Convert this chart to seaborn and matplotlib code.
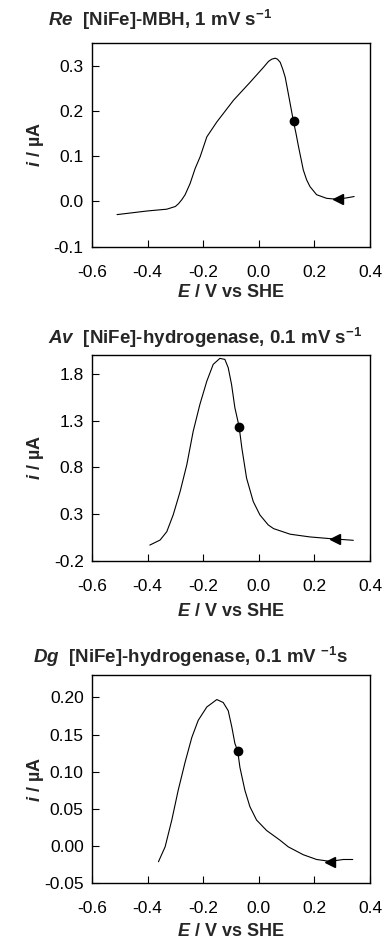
import numpy as np
import pandas as pd
import matplotlib
matplotlib.use("Agg")
import matplotlib.pyplot as plt
import seaborn as sns

# Re [NiFe]-MBH, 1 mV/s
re_E = [-0.510, -0.402, -0.331, -0.300, -0.289, -0.277, -0.265, -0.247, -0.229, -0.211,
        -0.187, -0.151, -0.091, -0.031, 0.017, 0.035, 0.047, 0.059, 0.067, 0.077,
        0.086, 0.095, 0.103, 0.113, 0.125, 0.134, 0.143, 0.160, 0.172, 0.184,
        0.208, 0.226, 0.244, 0.280, 0.316, 0.343]
re_i = [-0.029, -0.021, -0.017, -0.011, -0.005, 0.004, 0.015, 0.040, 0.073, 0.099,
        0.143, 0.176, 0.224, 0.264, 0.297, 0.310, 0.315, 0.317, 0.315, 0.308,
        0.293, 0.275, 0.249, 0.216, 0.176, 0.150, 0.121, 0.070, 0.048, 0.033,
        0.015, 0.011, 0.007, 0.005, 0.008, 0.011]
re_dot = (0.127, 0.178)
re_arrow = (0.286, 0.006)

# Av [NiFe]-hydrogenase, 0.1 mV/s
av_E = [-0.392, -0.355, -0.331, -0.308, -0.283, -0.259, -0.236, -0.212, -0.187, -0.164,
        -0.140, -0.122, -0.110, -0.098, -0.086, -0.071, -0.061, -0.044, -0.020, 0.004,
        0.034, 0.053, 0.113, 0.184, 0.256, 0.340]
av_i = [-0.030, 0.024, 0.113, 0.292, 0.542, 0.828, 1.185, 1.471, 1.721, 1.900,
        1.964, 1.953, 1.864, 1.685, 1.436, 1.238, 1.007, 0.685, 0.435, 0.292,
        0.185, 0.146, 0.086, 0.057, 0.039, 0.021]
av_dot = (-0.071, 1.233)
av_arrow = (0.274, 0.036)

# Dg [NiFe]-hydrogenase, 0.1 mV/s
dg_E = [-0.361, -0.337, -0.313, -0.290, -0.265, -0.241, -0.218, -0.187, -0.151, -0.128,
        -0.110, -0.097, -0.086, -0.076, -0.068, -0.050, -0.032, -0.008, 0.028, 0.076,
        0.106, 0.160, 0.208, 0.256, 0.304, 0.338]
dg_i = [-0.021, -0.001, 0.035, 0.075, 0.113, 0.146, 0.169, 0.187, 0.197, 0.193,
        0.182, 0.160, 0.138, 0.128, 0.106, 0.075, 0.053, 0.035, 0.021, 0.008,
        -0.001, -0.0116, -0.018, -0.0205, -0.018, -0.018]
dg_dot = (-0.075, 0.128)
dg_arrow = (0.256, -0.021)

sns.set_theme(style="white")
plt.rcParams['font.family'] = ['Liberation Sans', 'DejaVu Sans']
plt.rcParams['axes.unicode_minus'] = False
plt.rcParams['mathtext.fontset'] = 'custom'
plt.rcParams['mathtext.rm'] = 'Liberation Sans:bold'
plt.rcParams['mathtext.it'] = 'Liberation Sans:italic:bold'
plt.rcParams['mathtext.bf'] = 'Liberation Sans:bold'

fig = plt.figure(figsize=(3.84, 9.46), dpi=100)
W, H = 384.0, 946.0

panels = [
    dict(E=re_E, i=re_i, dot=re_dot, arrow=re_arrow, box=(43.3, 246.7), ylim=(-0.1, 0.35),
         yticks=[-0.1, 0.0, 0.1, 0.2, 0.3], fmt='%.1f',
         title=r'$\mathit{Re}$  [NiFe]-MBH, 1 mV s$^{-1}$', tpos=(48, 20), xlab_y=293),
    dict(E=av_E, i=av_i, dot=av_dot, arrow=av_arrow, box=(355.0, 561.0), ylim=(-0.2, 2.0),
         yticks=[-0.2, 0.3, 0.8, 1.3, 1.8], fmt='%.1f',
         title=r'$\mathit{Av}$  [NiFe]-hydrogenase, 0.1 mV s$^{-1}$', tpos=(48, 338), xlab_y=611.7),
    dict(E=dg_E, i=dg_i, dot=dg_dot, arrow=dg_arrow, box=(675.0, 883.3), ylim=(-0.05, 0.23),
         yticks=[-0.05, 0.0, 0.05, 0.10, 0.15, 0.20], fmt='%.2f',
         title=r'$\mathit{Dg}$  [NiFe]-hydrogenase, 0.1 mV $^{-1}$s', tpos=(33, 657), xlab_y=931.7),
]

left, right = 92.0, 370.0
for p in panels:
    top, bot = p['box']
    ax = fig.add_axes([left / W, 1 - bot / H, (right - left) / W, (bot - top) / H])
    df = pd.DataFrame({'E': p['E'], 'i': p['i']})
    sns.lineplot(data=df, x='E', y='i', sort=False, color='black', linewidth=0.8, ax=ax)
    ax.plot([p['dot'][0]], [p['dot'][1]], 'o', color='black', markersize=6)
    ax.plot([p['arrow'][0]], [p['arrow'][1]], '<', color='black', markersize=7)

    ax.set_xlim(-0.6, 0.4)
    ax.set_ylim(*p['ylim'])
    ax.set_xticks([-0.6, -0.4, -0.2, 0.0, 0.2, 0.4])
    ax.set_xticklabels(['%.1f' % v for v in [-0.6, -0.4, -0.2, 0.0, 0.2, 0.4]])
    ax.set_yticks(p['yticks'])
    ax.set_yticklabels([p['fmt'] % v for v in p['yticks']])
    ax.tick_params(axis='both', direction='in', length=5, width=0.8, colors='black',
                   labelsize=12.5, bottom=True, left=True)
    ax.tick_params(axis='x', pad=13)
    ax.tick_params(axis='y', pad=6)
    for s in ax.spines.values():
        s.set_color('black')
        s.set_linewidth(1.0)

    ax.set_xlabel(r'$\mathit{E}$ / V vs SHE', fontsize=13, fontweight='bold')
    ax.set_ylabel(r'$\mathit{i}$ / µA', fontsize=13, fontweight='bold')
    ax.xaxis.set_label_coords(0.5, (bot - p['xlab_y']) / (bot - top))
    ax.xaxis.label.set_va('center')
    ax.yaxis.set_label_coords((35 - left) / (right - left), 0.5)
    ax.yaxis.label.set_va('center')

    fig.text(p['tpos'][0] / W, 1 - p['tpos'][1] / H, p['title'], fontsize=13.5,
             fontweight='bold', ha='left', va='center')

fig.savefig('out.png', dpi=100)
